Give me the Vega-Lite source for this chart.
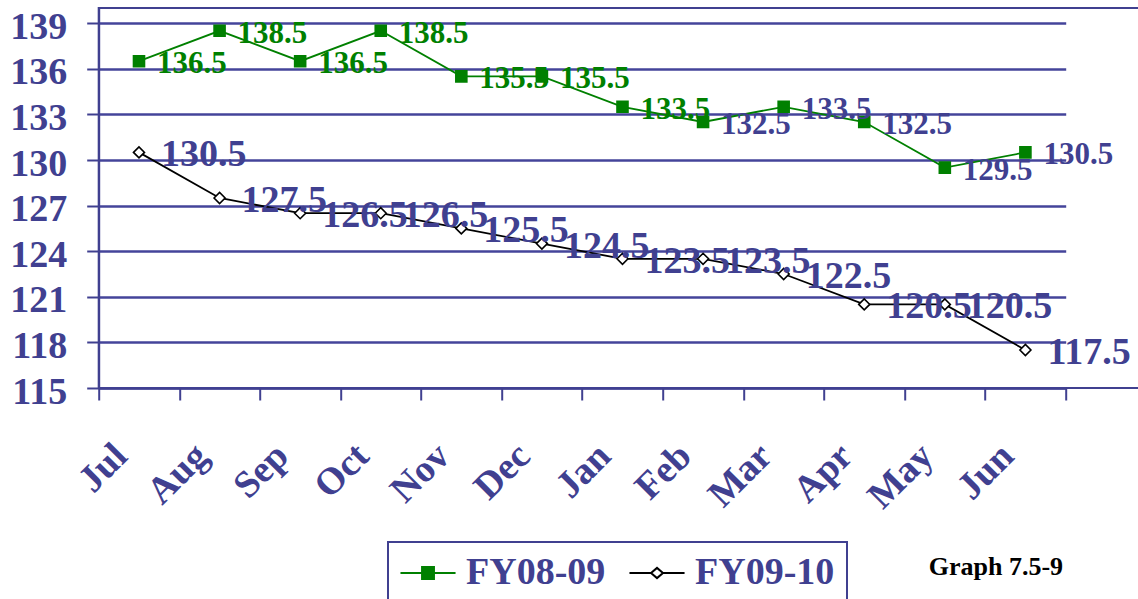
{
  "$schema": "https://vega.github.io/schema/vega-lite/v6.json",
  "width": 1060,
  "height": 380,
  "autosize": {"type": "none"},
  "padding": {"left": 98.7, "top": 8, "right": -20.7, "bottom": 211},
  "background": "white",
  "config": {
    "view": {"stroke": "#404090", "strokeWidth": 2},
    "font": "Liberation Serif"
  },
  "title": {
    "text": "Graph 7.5-9",
    "orient": "top",
    "anchor": "start",
    "frame": "group",
    "baseline": "alphabetic",
    "dx": 830,
    "dy": 593,
    "offset": 0,
    "font": "Liberation Serif",
    "fontSize": 26,
    "fontWeight": "bold",
    "color": "#000000"
  },
  "data": {
    "values": [
      {"month": "Jul", "series": "FY08-09", "value": 136.5},
      {"month": "Aug", "series": "FY08-09", "value": 138.5},
      {"month": "Sep", "series": "FY08-09", "value": 136.5},
      {"month": "Oct", "series": "FY08-09", "value": 138.5},
      {"month": "Nov", "series": "FY08-09", "value": 135.5},
      {"month": "Dec", "series": "FY08-09", "value": 135.5},
      {"month": "Jan", "series": "FY08-09", "value": 133.5},
      {"month": "Feb", "series": "FY08-09", "value": 132.5},
      {"month": "Mar", "series": "FY08-09", "value": 133.5},
      {"month": "Apr", "series": "FY08-09", "value": 132.5},
      {"month": "May", "series": "FY08-09", "value": 129.5},
      {"month": "Jun", "series": "FY08-09", "value": 130.5},
      {"month": "Jul", "series": "FY09-10", "value": 130.5},
      {"month": "Aug", "series": "FY09-10", "value": 127.5},
      {"month": "Sep", "series": "FY09-10", "value": 126.5},
      {"month": "Oct", "series": "FY09-10", "value": 126.5},
      {"month": "Nov", "series": "FY09-10", "value": 125.5},
      {"month": "Dec", "series": "FY09-10", "value": 124.5},
      {"month": "Jan", "series": "FY09-10", "value": 123.5},
      {"month": "Feb", "series": "FY09-10", "value": 123.5},
      {"month": "Mar", "series": "FY09-10", "value": 122.5},
      {"month": "Apr", "series": "FY09-10", "value": 120.5},
      {"month": "May", "series": "FY09-10", "value": 120.5},
      {"month": "Jun", "series": "FY09-10", "value": 117.5}
    ]
  },
  "encoding": {
    "x": {
      "field": "month",
      "type": "nominal",
      "scale": {
        "type": "band",
        "domain": ["Jul", "Aug", "Sep", "Oct", "Nov", "Dec", "Jan", "Feb", "Mar", "Apr", "May", "Jun"],
        "range": [0, 967],
        "paddingInner": 0,
        "paddingOuter": 0
      },
      "axis": {
        "title": null,
        "labelAngle": -45,
        "labelAlign": "right",
        "labelBaseline": "middle",
        "labelFont": "Liberation Serif",
        "labelFontSize": 38,
        "labelFontWeight": "bold",
        "labelColor": "#404090",
        "labelPadding": 50,
        "labelOffset": -18,
        "labelOverlap": false,
        "labelBound": false,
        "tickBand": "extent",
        "tickSize": 12,
        "tickWidth": 2,
        "tickColor": "#404090",
        "domainColor": "#404090",
        "domainWidth": 2,
        "grid": false
      }
    },
    "y": {
      "field": "value",
      "type": "quantitative",
      "scale": {"domain": [115, 140], "nice": false, "zero": false},
      "axis": {
        "title": null,
        "values": [115, 118, 121, 124, 127, 130, 133, 136, 139],
        "grid": true,
        "gridColor": "#44449a",
        "gridWidth": 2.5,
        "labelFont": "Liberation Serif",
        "labelFontSize": 38,
        "labelFontWeight": "bold",
        "labelColor": "#404090",
        "labelPadding": 20,
        "labelOffset": 4,
        "tickSize": 12,
        "tickWidth": 2,
        "tickColor": "#404090",
        "domainColor": "#404090",
        "domainWidth": 2
      }
    }
  },
  "layer": [
    {
      "mark": {"type": "line", "strokeWidth": 1.8},
      "encoding": {
        "color": {
          "field": "series",
          "type": "nominal",
          "scale": {"domain": ["FY08-09", "FY09-10"], "range": ["#008000", "#000000"]},
          "legend": {
            "orient": "none",
            "legendX": 289.3,
            "legendY": 534,
            "direction": "horizontal",
            "title": null,
            "padding": 12,
            "strokeColor": "#404090",
            "labelFont": "Liberation Serif",
            "labelFontSize": 38,
            "labelFontWeight": "bold",
            "labelColor": "#404090",
            "labelOffset": 28,
            "columnPadding": 19,
            "symbolSize": 1156,
            "symbolStrokeWidth": 2,
            "encode": {
              "legend": {"update": {"strokeWidth": {"value": 2}}},
              "symbols": {
                "update": {
                  "shape": {"signal": "datum.value === 'FY08-09' ? 'M-1.09,0H2.15M0.18,-0.35H0.88V0.35H0.18Z' : 'M-1.09,0H0.18M0.88,0H2.15M0.18,0L0.53,-0.3L0.88,0L0.53,0.3Z'"},
                  "fill": {"signal": "datum.value === 'FY08-09' ? '#008000' : '#ffffff'"},
                  "stroke": {"signal": "datum.value === 'FY08-09' ? '#008000' : '#000000'"},
                  "strokeWidth": {"value": 2},
                  "opacity": {"value": 1}
                }
              }
            }
          }
        }
      }
    },
    {
      "mark": {"type": "point", "size": 121, "strokeWidth": 1.6, "opacity": 1},
      "encoding": {
        "shape": {
          "condition": {"test": "datum.series === 'FY08-09'", "value": "square"},
          "value": "diamond"
        },
        "fill": {
          "condition": {"test": "datum.series === 'FY08-09'", "value": "#008000"},
          "value": "#ffffff"
        },
        "stroke": {
          "condition": {"test": "datum.series === 'FY08-09'", "value": "#008000"},
          "value": "#000000"
        }
      }
    },
    {
      "transform": [{"filter": "datum.series === 'FY08-09'"}],
      "mark": {
        "type": "text",
        "align": "left",
        "baseline": "middle",
        "dx": 18,
        "dy": 3,
        "font": "Liberation Serif",
        "fontSize": 31,
        "fontWeight": "bold"
      },
      "encoding": {
        "text": {"field": "value", "type": "quantitative", "format": ".1f"},
        "color": {
          "condition": {
            "test": "indexof(['Jul', 'Aug', 'Sep', 'Oct', 'Nov', 'Dec', 'Jan'], datum.month) >= 0",
            "value": "#008000"
          },
          "value": "#404090"
        }
      }
    },
    {
      "transform": [{"filter": "datum.series === 'FY09-10'"}],
      "mark": {
        "type": "text",
        "align": "left",
        "baseline": "middle",
        "dx": 22,
        "dy": 3,
        "font": "Liberation Serif",
        "fontSize": 38,
        "fontWeight": "bold",
        "color": "#404090"
      },
      "encoding": {
        "text": {"field": "value", "type": "quantitative", "format": ".1f"}
      }
    }
  ]
}
